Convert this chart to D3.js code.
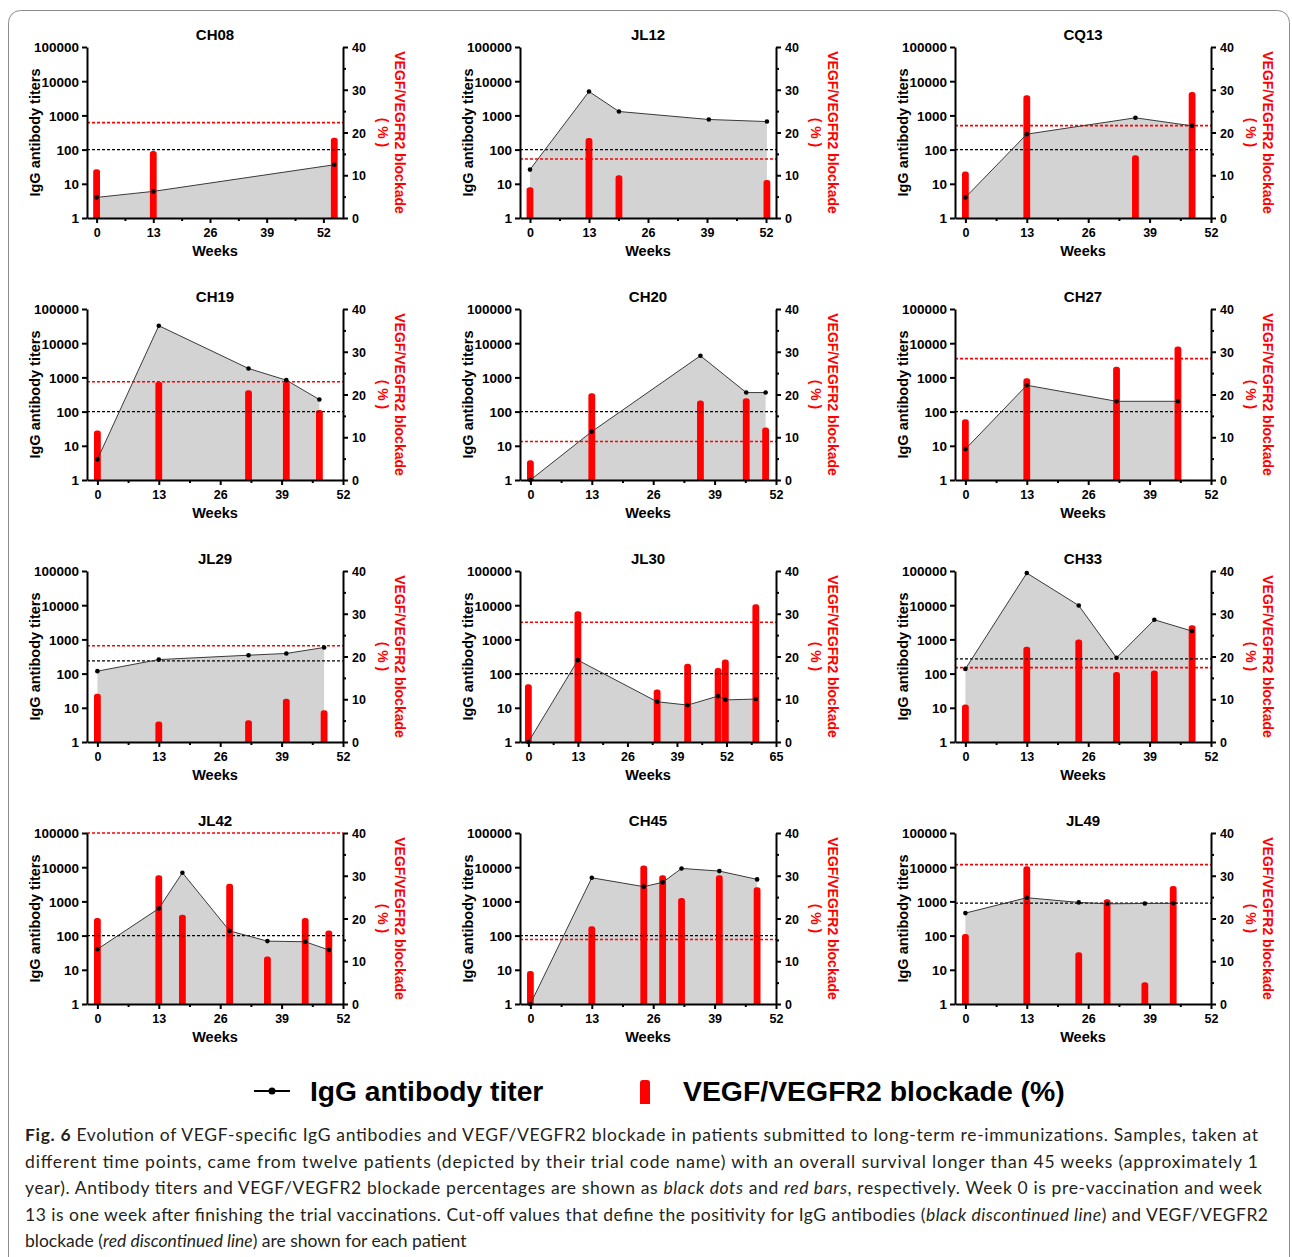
<!DOCTYPE html>
<html>
<head>
<meta charset="utf-8">
<script src="https://cdn.jsdelivr.net/npm/d3@7"></script>
<style>
  body { margin: 0; background: #fff; }
  svg { display: block; }
  .tick text { font-family: "Liberation Sans", Arial, sans-serif; font-weight: bold; }
</style>
</head>
<body>
<div id="chart"></div>
<script>
// patient panels, left to right, top to bottom
const patients = ["CH08", "JL12", "CQ13", "CH19", "CH20", "CH27", "JL29", "JL30", "CH33", "JL42", "CH45", "JL49"];
const weekAxisMax = [52, 52, 52, 52, 52, 52, 52, 65, 52, 52, 52, 52];

// IgG antibody titers (black dots)
const titerWeeks = [
    [0, 13, 54.5],
    [0, 13, 19.6, 39.4, 52.2],
    [0, 13, 36, 48],
    [0, 13, 32, 40, 47],
    [0, 13, 36, 45.7, 49.8],
    [0, 13, 32, 45],
    [0, 13, 32, 40, 48],
    [0, 13, 33.8, 41.8, 49.8, 51.7, 59.7],
    [0, 13, 24, 32, 40, 48],
    [0, 13, 18, 28, 36, 44, 49],
    [0, 13, 24, 28, 32, 40, 48],
    [0, 13, 24, 30, 38, 44]
];
const titers = [
    [4, 6, 36],
    [26, 5000, 1300, 760, 660],
    [4, 283, 850, 495],
    [4, 32500, 1820, 830, 225],
    [1, 26, 4300, 360, 360],
    [8, 590, 200, 200],
    [118, 257, 345, 388, 580],
    [1, 247, 15, 12, 22, 17, 18],
    [137, 87000, 9800, 290, 3750, 1750],
    [40, 620, 6900, 137, 69, 66, 38],
    [1, 4900, 2700, 3600, 9200, 7700, 4400],
    [455, 1280, 935, 850, 870, 880]
];

// VEGF/VEGFR2 blockade % (red bars)
const blockadeWeeks = [
    [0, 13, 54.5],
    [0, 13, 19.6, 52.2],
    [0, 13, 36, 48],
    [0, 13, 32, 40, 47],
    [0, 13, 36, 45.7, 49.8],
    [0, 13, 32, 45],
    [0, 13, 32, 40, 48],
    [0, 13, 33.8, 41.8, 49.8, 51.7, 59.7],
    [0, 13, 24, 32, 40, 48],
    [0, 13, 18, 28, 36, 44, 49],
    [0, 13, 24, 28, 32, 40, 48],
    [0, 13, 24, 30, 38, 44]
];
const blockade = [
    [11.4, 15.7, 18.8],
    [7.2, 18.7, 10.0, 8.9],
    [10.9, 28.7, 14.7, 29.5],
    [11.6, 23.0, 21.0, 23.0, 16.4],
    [4.6, 20.3, 18.6, 19.1, 12.3],
    [14.2, 23.8, 26.5, 31.2],
    [11.3, 4.8, 5.1, 10.1, 7.4],
    [13.5, 30.6, 12.3, 18.3, 17.3, 19.3, 32.2],
    [8.75, 22.3, 24.0, 16.4, 16.7, 27.3],
    [20.1, 30.1, 20.9, 28.1, 11.1, 20.1, 17.2],
    [7.7, 18.2, 32.4, 30.1, 24.8, 30.1, 27.3],
    [16.4, 32.2, 12.1, 24.5, 5.1, 27.6]
];

// cut-off values
const titerCutoff = [100, 100, 100, 100, 100, 100, 236, 100, 270, 100, 100, 890];
const blockadeCutoff = [22.3, 13.8, 21.6, 23.0, 9.0, 28.4, 22.5, 28.0, 17.4, 40, 15.1, 32.6];

const titerTicks = [1, 10, 100, 1000, 10000, 100000];
const blockadeTicks = [0, 10, 20, 30, 40];

const captionLines = [
    [["b", "Fig. 6"], ["", " Evolution of VEGF-specific IgG antibodies and VEGF/VEGFR2 blockade in patients submitted to long-term re-immunizations. Samples, taken at"]],
    [["", "different time points, came from twelve patients (depicted by their trial code name) with an overall survival longer than 45 weeks (approximately 1"]],
    [["", "year). Antibody titers and VEGF/VEGFR2 blockade percentages are shown as "], ["i", "black dots"], ["", " and "], ["i", "red bars"], ["", ", respectively. Week 0 is pre-vaccination and week"]],
    [["", "13 is one week after finishing the trial vaccinations. Cut-off values that define the positivity for IgG antibodies ("], ["i", "black discontinued line"], ["", ") and VEGF/VEGFR2"]],
    [["", "blockade ("], ["i", "red discontinued line"], ["", ") are shown for each patient"]]
];

const W = 1292, H = 1257;
const colX = [87, 520, 955];
const rowY = [47, 309, 571, 833];
const pw = 256, ph = 171;
const RED = "#ff0000";
const FONT = '"Liberation Sans", Arial, sans-serif';

const svg = d3.select("#chart").append("svg")
    .attr("width", W)
    .attr("height", H);

svg.append("rect").attr("width", W).attr("height", H).attr("fill", "#fff");

// outer frame
svg.append("rect")
    .attr("x", 8.5).attr("y", 10.5)
    .attr("width", 1281).attr("height", 1270)
    .attr("rx", 12)
    .attr("fill", "none")
    .attr("stroke", "#8c8c8c")
    .attr("stroke-width", 1);

function barPath(x, yTop, yBottom, w) {
    const r = 2.8, h = w / 2;
    return `M${x - h},${yBottom}V${yTop + r}Q${x - h},${yTop} ${x - h + r},${yTop}H${x + h - r}Q${x + h},${yTop} ${x + h},${yTop + r}V${yBottom}Z`;
}

function drawPanel(i) {
    const g = svg.append("g")
        .attr("transform", `translate(${colX[i % 3]},${rowY[Math.floor(i / 3)]})`);

    const lastWeek = d3.max(titerWeeks[i].concat(blockadeWeeks[i]));
    const x = d3.scaleLinear()
        .domain([-2.2, Math.max(weekAxisMax[i], lastWeek + 2)])
        .range([0, pw]);
    const y = d3.scaleLog().domain([1, 100000]).range([ph, 0]);
    const yr = d3.scaleLinear().domain([0, 40]).range([ph, 0]);

    const pts = titerWeeks[i].map((w, k) => [w, titers[i][k]]);

    // grey area under titers
    g.append("path")
        .datum(pts)
        .attr("d", d3.area().x(d => x(d[0])).y0(ph).y1(d => y(d[1])))
        .attr("fill", "#d3d3d3");

    // blockade bars
    g.selectAll(".bar")
        .data(blockadeWeeks[i].map((w, k) => [w, blockade[i][k]]))
        .join("path")
        .attr("d", d => barPath(x(d[0]), yr(d[1]), ph, 6.8))
        .attr("fill", RED);

    // cut-off lines
    g.append("line")
        .attr("x1", 0).attr("x2", pw)
        .attr("y1", y(titerCutoff[i])).attr("y2", y(titerCutoff[i]))
        .attr("stroke", "#000").attr("stroke-width", 1.4)
        .attr("stroke-dasharray", "3,2");
    g.append("line")
        .attr("x1", 0).attr("x2", pw)
        .attr("y1", yr(blockadeCutoff[i])).attr("y2", yr(blockadeCutoff[i]))
        .attr("stroke", RED).attr("stroke-width", 1.6)
        .attr("stroke-dasharray", "3,2");

    // titer line + dots
    g.append("path")
        .datum(pts)
        .attr("d", d3.line().x(d => x(d[0])).y(d => y(d[1])))
        .attr("fill", "none")
        .attr("stroke", "#3a3a3a")
        .attr("stroke-width", 1);
    g.selectAll(".dot")
        .data(pts)
        .join("circle")
        .attr("cx", d => x(d[0]))
        .attr("cy", d => y(d[1]))
        .attr("r", 2.3)
        .attr("fill", "#000");

    // axes
    const left = g.append("g")
        .call(d3.axisLeft(y).tickValues(titerTicks).tickFormat(d3.format("d"))
            .tickSize(5).tickSizeOuter(0).tickPadding(3));
    left.selectAll("text").style("font-size", "13.5px").attr("dy", "0.36em");

    const right = g.append("g")
        .attr("transform", `translate(${pw},0)`)
        .call(d3.axisRight(yr).tickValues(blockadeTicks).tickSize(5).tickSizeOuter(0).tickPadding(4));
    right.selectAll("text").style("font-size", "12.5px").attr("dy", "0.36em");
    g.append("g")
        .attr("transform", `translate(${pw},0)`)
        .call(d3.axisRight(yr).tickValues([5, 15, 25, 35]).tickSize(3).tickFormat(""))
        .select(".domain").remove();

    const majors = d3.range(0, weekAxisMax[i] + 0.01, 13);
    const bottom = g.append("g")
        .attr("transform", `translate(0,${ph})`)
        .call(d3.axisBottom(x).tickValues(majors).tickSize(5).tickSizeOuter(0).tickPadding(5));
    bottom.selectAll("text").style("font-size", "12.5px");
    g.append("g")
        .attr("transform", `translate(0,${ph})`)
        .call(d3.axisBottom(x).tickValues(majors.slice(0, -1).map(d => d + 6.5)).tickSize(3).tickFormat(""))
        .select(".domain").remove();

    g.selectAll(".domain").attr("stroke-width", 2).attr("stroke", "#000");
    g.selectAll(".tick line").attr("stroke-width", 2).attr("stroke", "#000");
    g.selectAll(".tick text").attr("fill", "#000");

    // titles & labels
    g.append("text")
        .attr("x", pw / 2).attr("y", -7)
        .attr("text-anchor", "middle")
        .style("font", `bold 15px ${FONT}`)
        .text(patients[i]);
    g.append("text")
        .attr("x", pw / 2).attr("y", ph + 38)
        .attr("text-anchor", "middle")
        .style("font", `bold 14.5px ${FONT}`)
        .text("Weeks");
    g.append("text")
        .attr("transform", `translate(-47,${ph / 2}) rotate(-90)`)
        .attr("text-anchor", "middle")
        .style("font", `bold 14.5px ${FONT}`)
        .text("IgG antibody titers");
    g.append("text")
        .attr("transform", `translate(${pw + 52},${ph / 2}) rotate(90)`)
        .attr("text-anchor", "middle")
        .attr("fill", RED)
        .style("font", `bold 14px ${FONT}`)
        .text("VEGF/VEGFR2 blockade");
    g.append("text")
        .attr("transform", `translate(${pw + 35},${ph / 2}) rotate(90)`)
        .attr("text-anchor", "middle")
        .attr("fill", RED)
        .style("font", `bold 14px ${FONT}`)
        .text("( % )");
}

patients.forEach((p, i) => drawPanel(i));

// legend
const lg = svg.append("g");
lg.append("line").attr("x1", 254).attr("x2", 290).attr("y1", 1091).attr("y2", 1091)
    .attr("stroke", "#000").attr("stroke-width", 2);
lg.append("circle").attr("cx", 272).attr("cy", 1091).attr("r", 3.5).attr("fill", "#000");
lg.append("text").attr("x", 310).attr("y", 1101)
    .style("font", `bold 28.2px ${FONT}`).text("IgG antibody titer");
lg.append("path").attr("d", barPath(645, 1080, 1104, 10)).attr("fill", RED);
lg.append("rect").attr("x", 640).attr("y", 1096).attr("width", 10).attr("height", 8).attr("rx", 3).attr("fill", RED);
lg.append("text").attr("x", 683).attr("y", 1101)
    .style("font", `bold 28.4px ${FONT}`).text("VEGF/VEGFR2 blockade (%)");

// caption
const lineWidths = [1233, 1233, 1237, 1243, null];
captionLines.forEach((parts, k) => {
    const t = svg.append("text")
        .attr("x", 25).attr("y", 1141 + k * 26.5)
        .attr("fill", "#231f20")
        .style("font-family", "Lato, 'Open Sans', sans-serif")
        .style("font-size", "17.5px");
    if (lineWidths[k]) t.attr("textLength", lineWidths[k]).attr("lengthAdjust", "spacing");
    parts.forEach(([s, txt]) => {
        const sp = t.append("tspan").text(txt);
        if (s === "b") sp.attr("font-weight", "bold");
        if (s === "i") sp.attr("font-style", "italic");
    });
});
</script>
</body>
</html>
